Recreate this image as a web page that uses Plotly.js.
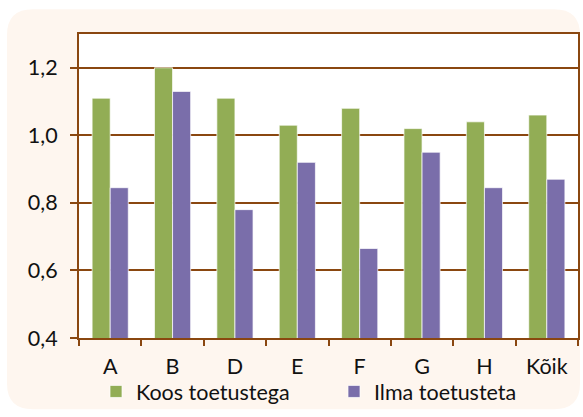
<!DOCTYPE html>
<html><head><meta charset="utf-8">
<script src="https://cdn.plot.ly/plotly-3.0.1.min.js"></script>
<style>html,body{margin:0;padding:0;background:#fff}#chart{width:583px;height:417px}</style>
</head><body><div id="chart"></div>
<script>
const categories = ['A','B','D','E','F','G','H','Kõik'];
const koosToetustega = [1.11, 1.20, 1.11, 1.03, 1.08, 1.02, 1.04, 1.06];
const ilmaToetusteta = [0.845, 1.13, 0.78, 0.92, 0.665, 0.95, 0.845, 0.87];
const seriesNames = ['Koos toetustega', 'Ilma toetusteta'];
const yTicks = [0.4, 0.6, 0.8, 1.0, 1.2];

const W = 583, H = 417, L = 79, R = 5, T = 34, B = 76;
const pw = W - L - R, ph = H - T - B;
const px = x => (x - L) / pw;
const py = y => (H - B - y) / ph;
function roundRect(x0, y0, x1, y1, r) {
  const p = (x, y) => px(x).toFixed(5) + ',' + py(y).toFixed(5);
  return 'M' + p(x0 + r, y0) + ' L' + p(x1 - r, y0) +
    ' Q' + p(x1, y0) + ' ' + p(x1, y0 + r) +
    ' L' + p(x1, y1 - r) + ' Q' + p(x1, y1) + ' ' + p(x1 - r, y1) +
    ' L' + p(x0 + r, y1) + ' Q' + p(x0, y1) + ' ' + p(x0, y1 - r) +
    ' L' + p(x0, y0 + r) + ' Q' + p(x0, y0) + ' ' + p(x0 + r, y0) + ' Z';
}
const brown = '#8A4710';
const font = {family: 'Lato, "Open Sans", sans-serif', size: 21.5, color: '#111111'};

const data = [
  {type: 'bar', x: categories, y: koosToetustega, name: seriesNames[0], legend: 'legend',
   marker: {color: '#92AD55', line: {color: 'rgba(255,255,255,0.7)', width: 1}}},
  {type: 'bar', x: categories, y: ilmaToetusteta, name: seriesNames[1], legend: 'legend2',
   marker: {color: '#7A6EAA', line: {color: 'rgba(255,255,255,0.7)', width: 1}}}
];
const legendBase = {orientation: 'h', xanchor: 'left', yanchor: 'middle', font: font,
                    bgcolor: 'rgba(0,0,0,0)'};
const layout = {
  width: W, height: H,
  margin: {l: L, r: R, t: T, b: B},
  paper_bgcolor: '#ffffff', plot_bgcolor: '#ffffff',
  separators: ',.',
  font: font,
  barmode: 'group', bargap: 0.42, bargroupgap: 0,
  showlegend: true,
  legend: Object.assign({}, legendBase, {x: px(96), y: py(395)}),
  legend2: Object.assign({}, legendBase, {x: px(334), y: py(395)}),
  xaxis: {showline: true, linecolor: brown, linewidth: 2, mirror: true,
          ticks: 'outside', tickson: 'boundaries', ticklen: 6, tickcolor: brown, tickwidth: 2,
          showgrid: false, tickfont: font, ticklabelstandoff: 8, automargin: false},
  yaxis: {range: [0.4, 1.3], tickvals: yTicks, tickformat: '.1f',
          showline: true, linecolor: brown, linewidth: 2, mirror: true,
          ticks: 'outside', ticklen: 7, tickcolor: brown, tickwidth: 2,
          showgrid: true, gridcolor: brown, gridwidth: 2, zeroline: false,
          ticklabelstandoff: 8, tickfont: font, automargin: false},
  shapes: [
    {type: 'path', xref: 'paper', yref: 'paper', layer: 'below',
     path: roundRect(7, 9, 580, 413, 26), fillcolor: '#FEF6EF', line: {width: 0}},
    {type: 'rect', xref: 'paper', yref: 'paper', layer: 'below',
     x0: 0, x1: 1, y0: 0, y1: 1, fillcolor: '#ffffff', line: {width: 0}}
  ]
};
Plotly.newPlot('chart', data, layout, {displayModeBar: false, staticPlot: true});
</script></body></html>
